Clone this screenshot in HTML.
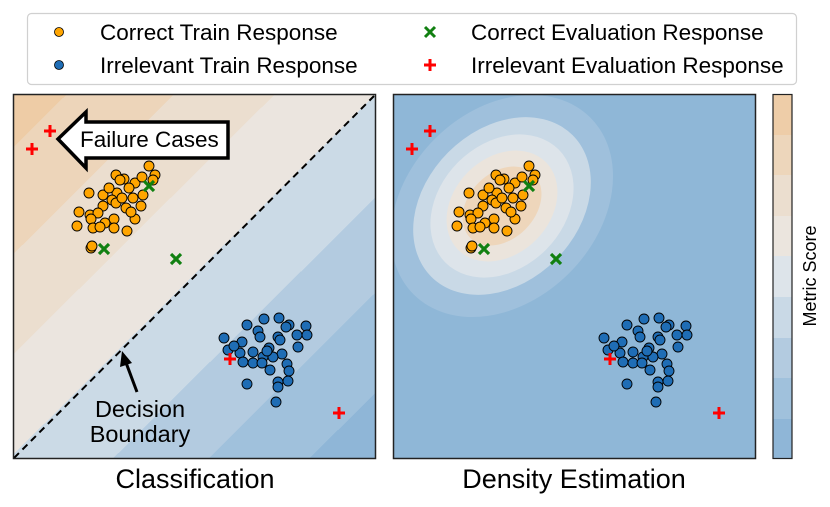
<!DOCTYPE html>
<html><head><meta charset="utf-8"><style>
html,body{margin:0;padding:0;background:#fff;}
svg{display:block;font-family:"Liberation Sans",Arial,sans-serif;}
</style></head><body>
<svg width="830" height="507" viewBox="0 0 830 507" xmlns="http://www.w3.org/2000/svg">
<defs>
<linearGradient id="lg" x1="13" y1="94" x2="376" y2="459" gradientUnits="userSpaceOnUse">
<stop offset="0" stop-color="#eecca6"/><stop offset="0.074" stop-color="#eecca6"/>
<stop offset="0.074" stop-color="#edd5ba"/><stop offset="0.221" stop-color="#edd5ba"/>
<stop offset="0.221" stop-color="#ebdecf"/><stop offset="0.359" stop-color="#ebdecf"/>
<stop offset="0.359" stop-color="#ebe5df"/><stop offset="0.497" stop-color="#ebe5df"/>
<stop offset="0.497" stop-color="#cbdae6"/><stop offset="0.639" stop-color="#cbdae6"/>
<stop offset="0.639" stop-color="#b3cbe0"/><stop offset="0.77" stop-color="#b3cbe0"/>
<stop offset="0.77" stop-color="#a0c1dc"/><stop offset="0.908" stop-color="#a0c1dc"/>
<stop offset="0.908" stop-color="#8fb6d7"/><stop offset="1" stop-color="#8fb6d7"/>
</linearGradient>
<clipPath id="cr"><rect x="394" y="94" width="362" height="365"/></clipPath>
<g id="pts">
<g fill="#ffa500" stroke="#000" stroke-width="0.9">
<circle cx="149" cy="166" r="5"/><circle cx="155" cy="175" r="5"/><circle cx="116" cy="175" r="5"/><circle cx="124" cy="179" r="5"/><circle cx="135" cy="183" r="5"/><circle cx="129" cy="188" r="5"/><circle cx="89" cy="193" r="5"/><circle cx="103" cy="195" r="5"/><circle cx="117" cy="193" r="5"/><circle cx="133" cy="198" r="5"/><circle cx="143" cy="195" r="5"/><circle cx="112" cy="200" r="5"/><circle cx="103" cy="206" r="5"/><circle cx="116" cy="203" r="5"/><circle cx="126" cy="208" r="5"/><circle cx="141" cy="206" r="5"/><circle cx="79" cy="212" r="5"/><circle cx="90" cy="215" r="5"/><circle cx="98" cy="213" r="5"/><circle cx="135" cy="219" r="5"/><circle cx="114" cy="219" r="5"/><circle cx="105" cy="223" r="5"/><circle cx="91" cy="219" r="5"/><circle cx="77" cy="226" r="5"/><circle cx="93" cy="228" r="5"/><circle cx="114" cy="228" r="5"/><circle cx="127" cy="231" r="5"/><circle cx="91" cy="248" r="5"/><circle cx="92" cy="246" r="5"/><circle cx="120" cy="180" r="5"/><circle cx="142" cy="177" r="5"/><circle cx="153" cy="180" r="5"/><circle cx="131" cy="212" r="5"/><circle cx="100" cy="227" r="5"/><circle cx="109" cy="188" r="5"/><circle cx="122" cy="198" r="5"/>
</g>
<g fill="#1f6db5" stroke="#000" stroke-width="0.9">
<circle cx="247" cy="325" r="5"/><circle cx="264" cy="319" r="5"/><circle cx="279" cy="318" r="5"/><circle cx="289" cy="325" r="5"/><circle cx="306" cy="326" r="5"/><circle cx="307" cy="335" r="5"/><circle cx="297" cy="335" r="5"/><circle cx="286" cy="327" r="5"/><circle cx="258" cy="331" r="5"/><circle cx="260" cy="337" r="5"/><circle cx="278" cy="337" r="5"/><circle cx="280" cy="340" r="5"/><circle cx="224" cy="338" r="5"/><circle cx="242" cy="342" r="5"/><circle cx="228" cy="350" r="5"/><circle cx="240" cy="353" r="5"/><circle cx="253" cy="352" r="5"/><circle cx="269" cy="348" r="5"/><circle cx="282" cy="354" r="5"/><circle cx="273" cy="357" r="5"/><circle cx="263" cy="357" r="5"/><circle cx="243" cy="362" r="5"/><circle cx="253" cy="363" r="5"/><circle cx="262" cy="363" r="5"/><circle cx="287" cy="364" r="5"/><circle cx="270" cy="370" r="5"/><circle cx="289" cy="371" r="5"/><circle cx="298" cy="347" r="5"/><circle cx="278" cy="382" r="5"/><circle cx="288" cy="381" r="5"/><circle cx="278" cy="387" r="5"/><circle cx="247" cy="384" r="5"/><circle cx="276" cy="402" r="5"/><circle cx="267" cy="351" r="5"/><circle cx="234" cy="346" r="5"/>
</g>
<g stroke="#118011" stroke-width="3.2">
<path d="M144 181l10 10M154 181l-10 10"/><path d="M99 244l10 10M109 244l-10 10"/><path d="M171 254l10 10M181 254l-10 10"/>
</g>
<g stroke="#ff0000" stroke-width="3">
<path d="M50 125v12M44 131h12"/><path d="M32 143v12M26 149h12"/><path d="M230 353v12M224 359h12"/><path d="M339 407v12M333 413h12"/>
</g>
</g>
</defs>

<!-- legend -->
<rect x="27.5" y="13.5" width="769" height="71" rx="4" fill="#fff" stroke="#d0d0d0" stroke-width="1.2"/>
<circle cx="59" cy="32" r="4.5" fill="#ffa500" stroke="#000" stroke-width="0.8"/>
<circle cx="59" cy="65" r="4.5" fill="#1f6db5" stroke="#000" stroke-width="0.8"/>
<path d="M425 27l10 10M435 27l-10 10" stroke="#118011" stroke-width="3"/>
<path d="M430 59v12M424 65h12" stroke="#ff0000" stroke-width="3"/>
<g font-size="22.5" fill="#000">
<text x="100" y="40">Correct Train Response</text>
<text x="100" y="73">Irrelevant Train Response</text>
<text x="471" y="40">Correct Evaluation Response</text>
<text x="471" y="73">Irrelevant Evaluation Response</text>
</g>

<!-- left panel -->
<rect x="13" y="94" width="363" height="365" fill="url(#lg)"/>
<line x1="14" y1="458" x2="374" y2="96" stroke="#000" stroke-width="2" stroke-dasharray="7,5"/>
<use href="#pts"/>
<path d="M58 139L86 112V122H228V158H86V168Z" fill="#fff" stroke="#000" stroke-width="3.5" stroke-linejoin="miter"/>
<text x="80" y="147" font-size="22.5">Failure Cases</text>
<path d="M137 392L125 360" stroke="#000" stroke-width="3"/>
<path d="M122 351L120 367L132 363Z" fill="#000"/>
<text x="140" y="417" font-size="23.5" text-anchor="middle">Decision</text>
<text x="140" y="442" font-size="23.5" text-anchor="middle">Boundary</text>
<rect x="13.5" y="94.5" width="362" height="364" fill="none" stroke="#222" stroke-width="1.5"/>

<!-- right panel -->
<rect x="394" y="94" width="362" height="365" fill="#8fb7d7"/>
<g clip-path="url(#cr)">
<g transform="rotate(-45 502 206)">
<ellipse cx="502" cy="206" rx="125" ry="95" fill="#9fc0dc"/>
<ellipse cx="502" cy="206" rx="100" ry="76" fill="#c9d9e6"/>
<ellipse cx="502" cy="206" rx="80" ry="62" fill="#dde4ea"/>
<ellipse cx="502" cy="206" rx="62" ry="48" fill="#ebe4dc"/>
<ellipse cx="502" cy="206" rx="45" ry="33" fill="#eed6bb"/>
</g>
</g>
<use href="#pts" transform="translate(380 0)"/>
<rect x="393.5" y="94.5" width="362" height="364" fill="none" stroke="#222" stroke-width="1.5"/>

<!-- colorbar -->
<g>
<rect x="773" y="94" width="19" height="41" fill="#eecda8"/>
<rect x="773" y="135" width="19" height="40" fill="#edd6bb"/>
<rect x="773" y="175" width="19" height="41" fill="#ebdecf"/>
<rect x="773" y="216" width="19" height="40" fill="#ebe5de"/>
<rect x="773" y="256" width="19" height="41" fill="#dde4ea"/>
<rect x="773" y="297" width="19" height="41" fill="#c9d9e6"/>
<rect x="773" y="338" width="19" height="40" fill="#b3cbe0"/>
<rect x="773" y="378" width="19" height="41" fill="#a0c1dc"/>
<rect x="773" y="419" width="19" height="40" fill="#8fb6d7"/>
<rect x="773" y="94.5" width="19" height="364" fill="none" stroke="#222" stroke-width="1.2"/>
</g>
<text transform="translate(816 276) rotate(-90)" font-size="18" text-anchor="middle">Metric Score</text>

<text x="195" y="488" font-size="27" text-anchor="middle">Classification</text>
<text x="574" y="488" font-size="27" text-anchor="middle">Density Estimation</text>
</svg>
</body></html>
